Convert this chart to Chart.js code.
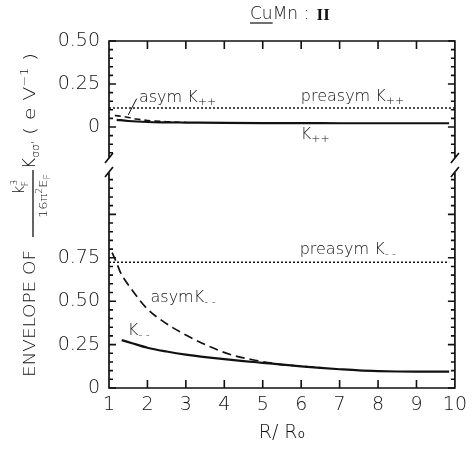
<!DOCTYPE html>
<html>
<head>
<meta charset="utf-8">
<script src="https://cdn.jsdelivr.net/npm/chart.js@4/dist/chart.umd.min.js"></script>
<style>
  html, body { margin: 0; padding: 0; background: #fff; }
  #wrap { width: 473px; height: 452px; }
</style>
</head>
<body>
<div id="wrap"><canvas id="myChart" width="473" height="452"></canvas></div>
<script>
// x ticks and panel tick values
const xTicks = [1, 2, 3, 4, 5, 6, 7, 8, 9, 10];
const topTicks = [0, 0.25, 0.5];
const botTicks = [0, 0.25, 0.5, 0.75];

// upper panel (K++)
const kppX = [1.2, 1.5, 2, 2.5, 3, 4, 5, 6, 7, 8, 9, 9.85];
const kppY = [0.042, 0.035, 0.029, 0.027, 0.026, 0.024, 0.023, 0.023, 0.022, 0.022, 0.022, 0.022];
const asymPpX = [1.15, 1.4, 1.7, 2.0, 2.5, 3.0];
const asymPpY = [0.067, 0.06, 0.047, 0.038, 0.031, 0.027];
const preasymPpX = [1, 10];
const preasymPpY = [0.11, 0.11];

// lower panel (K--)
const kmmX = [1.33, 1.6, 2, 2.5, 3, 3.5, 4, 4.5, 5, 5.5, 6, 6.5, 7, 7.5, 8, 8.5, 9, 9.5, 9.85];
const kmmY = [0.276, 0.258, 0.232, 0.21, 0.192, 0.178, 0.166, 0.155, 0.145, 0.135, 0.125, 0.116, 0.108, 0.101, 0.097, 0.095, 0.094, 0.094, 0.094];
const asymMmX = [1.08, 1.2, 1.3, 1.6, 2.0, 2.5, 3.0, 3.6, 4.2, 4.8, 5.4, 5.9, 6.5];
const asymMmY = [0.78, 0.72, 0.665, 0.565, 0.455, 0.37, 0.305, 0.24, 0.19, 0.16, 0.138, 0.127, 0.117];
const preasymMmX = [1, 9.85];
const preasymMmY = [0.724, 0.724];

const FONT = '"DejaVu Sans", sans-serif';
const INK = '#111';

function pts(xs, ys) {
    return xs.map(function (x, i) { return { x: x, y: ys[i] }; });
}

function line(label, xs, ys, axis, dash, width) {
    return {
        label: label,
        data: pts(xs, ys),
        yAxisID: axis,
        borderColor: INK,
        borderWidth: width,
        borderDash: dash,
        pointRadius: 0,
        tension: 0.4,
        cubicInterpolationMode: 'monotone',
        fill: false
    };
}

// text with sub/superscripts: parts = [text, size, dy]
function rich(ctx, x, y, parts) {
    let cx = x;
    parts.forEach(function (p) {
        ctx.font = '300 ' + p[1] + 'px ' + FONT;
        ctx.fillText(p[0], cx, y + p[2]);
        cx += ctx.measureText(p[0]).width;
    });
    return cx;
}
function richWidth(ctx, parts) {
    let w = 0;
    parts.forEach(function (p) {
        ctx.font = '300 ' + p[1] + 'px ' + FONT;
        w += ctx.measureText(p[0]).width;
    });
    return w;
}
// same, stretched along the baseline to fill a given length
function richFit(ctx, x, y, parts, len) {
    const w = richWidth(ctx, parts);
    ctx.save();
    ctx.translate(x, y);
    ctx.scale(len / w, 1);
    rich(ctx, 0, 0, parts);
    ctx.restore();
    return x + len;
}

// labels, anchored in data units
const labels = [
    { axis: 'yTop', x: 5.99, y: 0.174, parts: [['preasym K', 16, 0], ['++', 11, 4]] },
    { axis: 'yTop', x: 1.78, y: 0.169, parts: [['asym K', 16, 0], ['++', 11, 4]] },
    { axis: 'yTop', x: 5.99, y: -0.047, parts: [['K', 16, 0], ['++', 11, 4]] },
    { axis: 'yBot', x: 5.96, y: 0.793, parts: [['preasym K', 16, 0], ['- -', 11, 4]] },
    { axis: 'yBot', x: 2.08, y: 0.517, parts: [['asymK', 16, 0], ['- -', 11, 4]] },
    { axis: 'yBot', x: 1.49, y: 0.328, parts: [['K', 16, 0], ['- -', 11, 4]] }
];

const decor = {
    id: 'decor',
    afterDraw: function (chart) {
        const ctx = chart.ctx;
        const xs = chart.scales.x, yt = chart.scales.yTop, yb = chart.scales.yBot;
        const L = chart.chartArea.left, R = chart.chartArea.right;
        const T = chart.chartArea.top, B = chart.chartArea.bottom;
        const brk = yt.bottom;
        ctx.save();
        ctx.strokeStyle = INK;
        ctx.fillStyle = INK;
        ctx.lineWidth = 1.7;

        // frame with break
        ctx.beginPath();
        ctx.moveTo(L, brk - 6); ctx.lineTo(L, T); ctx.lineTo(R, T); ctx.lineTo(R, brk - 6);
        ctx.moveTo(L, brk + 8); ctx.lineTo(L, B); ctx.lineTo(R, B); ctx.lineTo(R, brk + 8);
        [L, R].forEach(function (ex) {
            ctx.moveTo(ex - 4, brk - 1); ctx.lineTo(ex + 4, brk - 11);
            ctx.moveTo(ex - 4, brk + 13); ctx.lineTo(ex + 4, brk + 3);
        });
        ctx.stroke();

        // inward ticks
        ctx.lineWidth = 1.6;
        ctx.beginPath();
        xTicks.forEach(function (v) {
            const px = xs.getPixelForValue(v);
            if (v > 1 && v < 10) {
                ctx.moveTo(px, B); ctx.lineTo(px, B - 8);
                ctx.moveTo(px, T); ctx.lineTo(px, T + 8);
            }
        });
        [[yt, -0.15, 0.5], [yb, 0, 1.2]].forEach(function (s) {
            for (let k = Math.round(s[1] * 20); k <= Math.round(s[2] * 20); k++) {
                const py = s[0].getPixelForValue(k / 20);
                const len = (k % 5 === 0) ? 7 : 4;
                ctx.moveTo(L, py); ctx.lineTo(L + len, py);
                ctx.moveTo(R, py); ctx.lineTo(R - len, py);
            }
        });
        ctx.stroke();

        // curve labels
        ctx.textBaseline = 'middle';
        ctx.textAlign = 'left';
        labels.forEach(function (lb) {
            const s = chart.scales[lb.axis];
            rich(ctx, xs.getPixelForValue(lb.x), s.getPixelForValue(lb.y), lb.parts);
        });
        // pointer for asym K++
        ctx.lineWidth = 1;
        ctx.beginPath();
        ctx.moveTo(xs.getPixelForValue(1.72), yt.getPixelForValue(0.165));
        ctx.lineTo(xs.getPixelForValue(1.5), yt.getPixelForValue(0.07));
        ctx.stroke();

        // title
        const tx = 250, ty = 15;
        let cx = rich(ctx, tx, ty, [['Cu', 17, 0]]);
        ctx.lineWidth = 1.2;
        ctx.beginPath(); ctx.moveTo(tx, ty + 8); ctx.lineTo(cx, ty + 8); ctx.stroke();
        cx = rich(ctx, cx, ty, [['Mn : ', 17, 0]]);
        ctx.font = 'bold 17px "Liberation Serif", serif';
        ctx.fillText('II', cx + 2, ty + 1);

        // rotated y-axis title, reading upward from y = 377
        ctx.translate(31, 377);
        ctx.rotate(-Math.PI / 2);
        ctx.textBaseline = 'middle';
        richFit(ctx, 0, 0, [['ENVELOPE OF', 15, 0]], 127);
        ctx.lineWidth = 1.3;
        ctx.beginPath(); ctx.moveTo(140, 2); ctx.lineTo(207, 2); ctx.stroke();
        const num = [['k', 15, 0], ['3', 9, -5]];
        const nx = 190 - richWidth(ctx, num) / 2;
        rich(ctx, nx, -11, num);
        rich(ctx, nx + 8, -11, [['F', 9, 6]]);
        const den = [['16π', 11, 0], ['2', 8, -4], ['E', 11, 0], ['F', 8, 4]];
        richFit(ctx, 159, 13, den, 44);
        const ex = rich(ctx, 208, 0, [['K', 17, 0], ['σσ\'', 11, 5]]);
        richFit(ctx, ex + 6, 0, [['( e V', 16, 0], ['−1', 10, -6], [' )', 16, 0]], 82);
        ctx.restore();
    }
};

new Chart(document.getElementById('myChart'), {
    type: 'line',
    data: {
        datasets: [
            line('preasym K++', preasymPpX, preasymPpY, 'yTop', [2, 2], 1.5),
            line('K++', kppX, kppY, 'yTop', [], 2.2),
            line('asym K++', asymPpX, asymPpY, 'yTop', [6, 4], 1.6),
            line('preasym K--', preasymMmX, preasymMmY, 'yBot', [2, 2], 1.5),
            line('K--', kmmX, kmmY, 'yBot', [], 2.2),
            line('asym K--', asymMmX, asymMmY, 'yBot', [9, 5], 1.7)
        ]
    },
    options: {
        responsive: false,
        animation: false,
        layout: { padding: { top: 41, right: 14, bottom: 0, left: 0 } },
        plugins: { legend: { display: false }, tooltip: { enabled: false } },
        scales: {
            x: {
                type: 'linear',
                min: 1,
                max: 10,
                grid: { display: false, drawTicks: false },
                border: { display: false },
                afterBuildTicks: function (s) { s.ticks = xTicks.map(function (v) { return { value: v }; }); },
                afterFit: function (s) { s.height = 64; },
                ticks: { padding: 6, color: INK, font: { family: FONT, size: 19, weight: '300' } },
                title: {
                    display: true,
                    text: 'R/ R₀',
                    color: INK,
                    padding: { top: 0, bottom: 8 },
                    font: { family: FONT, size: 19, weight: '300' }
                }
            },
            // stacked axes are placed bottom-first, so the lower panel comes first
            yBot: {
                type: 'linear',
                position: 'left',
                stack: 'panels',
                stackWeight: 224,
                min: 0,
                max: 1.29,
                grid: { display: false, drawTicks: false },
                border: { display: false },
                afterBuildTicks: function (s) { s.ticks = botTicks.map(function (v) { return { value: v }; }); },
                afterFit: function (s) { s.width = 109; },
                ticks: {
                    padding: 9, color: INK, font: { family: FONT, size: 19, weight: '300' },
                    callback: function (v) { return v === 0 ? '0' : v.toFixed(2); }
                }
            },
            yTop: {
                type: 'linear',
                position: 'left',
                stack: 'panels',
                stackWeight: 123,
                min: -0.215,
                max: 0.5,
                grid: { display: false, drawTicks: false },
                border: { display: false },
                afterBuildTicks: function (s) { s.ticks = topTicks.map(function (v) { return { value: v }; }); },
                afterFit: function (s) { s.width = 109; },
                ticks: {
                    padding: 9, color: INK, font: { family: FONT, size: 19, weight: '300' },
                    callback: function (v) { return v === 0 ? '0' : v.toFixed(2); }
                }
            }
        }
    },
    plugins: [decor]
});
</script>
</body>
</html>
